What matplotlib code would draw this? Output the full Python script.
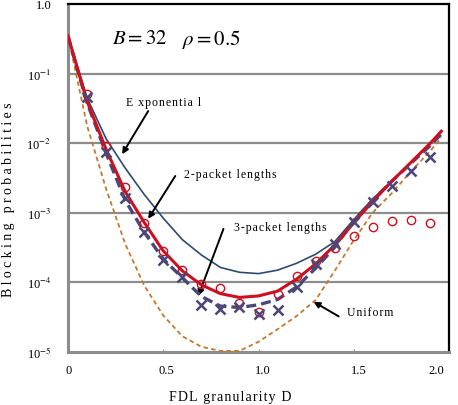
import matplotlib
matplotlib.use("Agg")
import matplotlib.pyplot as plt
import matplotlib.transforms as mtransforms
import numpy as np

plt.rcParams['font.family'] = ['Liberation Serif', 'DejaVu Serif']
plt.rcParams['mathtext.fontset'] = 'stix'

# ---- data ----
D_curve = [0, 0.05, 0.1, 0.2, 0.3, 0.4, 0.5, 0.6, 0.7, 0.8, 0.9, 1.0,
           1.1, 1.2, 1.3, 1.4, 1.5, 1.6, 1.7, 1.8, 1.9, 1.96]
exponential = [0.347, 0.126, 0.0447, 0.0115, 4.37e-3, 1.82e-3, 8.3e-4, 4.07e-4,
               2.45e-4, 1.62e-4, 1.38e-4, 1.32e-4, 1.48e-4, 1.86e-4, 2.51e-4,
               3.8e-4, 7.9e-4, 1.58e-3, 2.82e-3, 5.25e-3, 9.8e-3, 0.0145]
two_pkt = [0.347, 0.117, 0.0398, 8.1e-3, 2.0e-3, 7.2e-4, 2.8e-4, 1.45e-4,
           9.1e-5, 6.8e-5, 6.0e-5, 6.3e-5, 7.4e-5, 1.1e-4, 1.82e-4, 3.4e-4,
           7.1e-4, 1.45e-3, 2.82e-3, 5.25e-3, 9.8e-3, 0.0148]
three_pkt = [0.347, 0.112, 0.038, 7.1e-3, 1.51e-3, 5.2e-4, 2.14e-4, 1.15e-4,
             6.2e-5, 4.5e-5, 4.3e-5, 4.7e-5, 5.6e-5, 8.5e-5, 1.58e-4, 3.16e-4,
             7.6e-4, 1.51e-3, 2.82e-3, 5.1e-3, 9.1e-3, 0.0135]
uniform = [0.347, 0.079, 0.0178, 2.19e-3, 3.55e-4, 8.9e-5, 3.3e-5, 1.66e-5,
           1.17e-5, 1.02e-5, 1.02e-5, 1.38e-5, 2.09e-5, 3.24e-5, 5.5e-5,
           1.45e-4, 4.0e-4, 1.0e-3, 1.9e-3, 3.9e-3, 7.6e-3, 0.012]

D_sim = [0.1, 0.2, 0.3, 0.4, 0.5, 0.6, 0.7, 0.8, 0.9, 1.0,
         1.1, 1.2, 1.3, 1.4, 1.5, 1.6, 1.7, 1.8, 1.9]
sim_two = [0.0507, 0.0092, 2.3e-3, 7.0e-4, 2.8e-4, 1.5e-4, 9.3e-5, 8.1e-5,
           5.0e-5, 3.7e-5, 6.7e-5, 1.2e-4, 2.0e-4, 3.1e-4, 4.6e-4, 6.2e-4,
           7.6e-4, 7.9e-4, 7.0e-4]
sim_three = [0.046, 7.4e-3, 1.6e-3, 5.3e-4, 2.1e-4, 1.17e-4, 4.7e-5, 4.1e-5,
             4.4e-5, 3.5e-5, 3.9e-5, 8.5e-5, 1.8e-4, 3.5e-4, 7.2e-4, 1.4e-3,
             2.4e-3, 4.0e-3, 6.3e-3]

x_ticks = [0, 0.5, 1.0, 1.5, 2.0]
x_ticklabels = ['0', '0.5', '1.0', '1.5', '2.0']
y_ticks = [1e-5, 1e-4, 1e-3, 1e-2, 1e-1, 1.0]
y_ticklabels = [r'10$^{-5}$', r'10$^{-4}$', r'10$^{-3}$', r'10$^{-2}$',
                r'10$^{-1}$', '1.0']

HS = '\u200a'


def spaced(s):
    return HS.join(s)


# ---- figure ----
W, H = 458, 406
fig = plt.figure(figsize=(W / 100, H / 100), dpi=100)
ax = fig.add_axes([68 / W, 1 - 352.5 / H, (449 - 68) / W, (352.5 - 5) / H])
ax.set_yscale('log')
ax.set_xlim(0, 2.0)
ax.set_ylim(1e-5, 1.0)

for y in y_ticks[1:-1]:
    ax.axhline(y, color='#8c8c8c', lw=1.6, zorder=1)

c_blue = '#2d4b6e'
c_red = '#cc1020'
c_purple = '#4a4878'
c_orange = '#c27a2c'

ax.plot(D_curve, uniform, color=c_orange, lw=1.3, ls=(0, (2.5, 1.8)), zorder=3)
ax.plot(D_curve, exponential, color=c_blue, lw=1.2, zorder=3)
ax.plot(D_curve, three_pkt, color=c_purple, lw=2.4, ls=(0, (3, 1.5)), zorder=4)
ax.plot(D_curve, two_pkt, color=c_red, lw=2.2, zorder=5)
ax.plot(D_sim, sim_two, ls='none', marker='o', ms=6, mfc='none', mec=c_red,
        mew=1.0, zorder=6)
ax.plot(D_sim, sim_three, ls='none', marker='x', ms=6.5, mec=c_purple,
        mew=1.8, zorder=6)

# spines
for s in ['left', 'bottom']:
    ax.spines[s].set_color('#8c8c8c')
    ax.spines[s].set_linewidth(2.2)
for s in ['top', 'right']:
    ax.spines[s].set_color('black')
    ax.spines[s].set_linewidth(1.6)

ax.set_xticks(x_ticks)
ax.set_xticklabels(x_ticklabels, fontsize=9)
ax.set_yticks(y_ticks)
ax.set_yticklabels(y_ticklabels, fontsize=9)
ax.minorticks_off()
ax.tick_params(axis='x', length=2, direction='in', color='#8c8c8c', pad=9)
ax.tick_params(axis='y', length=0, pad=12)

offsets = [1, 3, 4, 5, -13]
for lab, off in zip(ax.get_xticklabels(), offsets):
    lab.set_transform(lab.get_transform() +
                      mtransforms.ScaledTranslation(off / 100, 0, fig.dpi_scale_trans))

ax.set_xlabel(spaced('FDL granularity D'), fontsize=10)
ax.set_ylabel(spaced(spaced('Blocking probabilities')), fontsize=10)
ax.xaxis.set_label_coords((230 - 68) / 381, 1 - (391 - 5) / 347.5)
ax.yaxis.set_label_coords((15 - 68) / 381, 1 - (200 - 5) / 347.5)

# title text
ax.text(0.23, 10 ** -0.49, r'$B = 32$', fontsize=15, ha='left', va='center')
ax.text(0.60, 10 ** -0.49, r'$\rho = 0.5$', fontsize=15, ha='left', va='center')

arrow = dict(arrowstyle='-|>', color='black', lw=1.4, mutation_scale=9,
             shrinkA=0, shrinkB=0)
ax.text(0.50, 0.039, spaced('E xponentia l'), fontsize=8.5, ha='center', va='center')
ax.annotate('', xy=(0.284, 6.9e-3), xytext=(0.421, 0.0288), arrowprops=arrow)
ax.text(0.853, 3.6e-3, spaced('2-packet lengths'), fontsize=8.5, ha='center', va='center')
ax.annotate('', xy=(0.421, 8.1e-4), xytext=(0.563, 3.35e-3), arrowprops=arrow)
ax.text(1.115, 6.2e-4, spaced('3-packet lengths'), fontsize=8.5, ha='center', va='center')
ax.annotate('', xy=(0.684, 6.3e-5), xytext=(0.816, 5.8e-4), arrowprops=arrow)
ax.text(1.584, 3.7e-5, spaced('Uniform'), fontsize=8.5, ha='center', va='center')
ax.annotate('', xy=(1.289, 5.2e-5), xytext=(1.421, 3.2e-5), arrowprops=arrow)

fig.savefig('out.png', dpi=100)
